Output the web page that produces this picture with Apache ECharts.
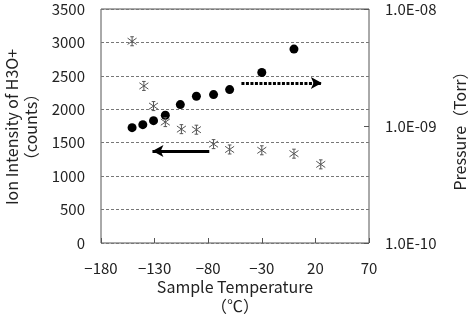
<!DOCTYPE html>
<html>
<head>
<meta charset="utf-8">
<script src="https://cdn.jsdelivr.net/npm/echarts@6/dist/echarts.min.js"></script>
<style>
  html, body { margin: 0; padding: 0; background: #fff; }
  #chart { width: 469px; height: 319px; }
</style>
</head>
<body>
<div id="chart"></div>
<script>
// sample temperature (°C)
const temps = [-151, -141, -131, -120, -106, -91, -75, -60, -30, 0];
const ionCounts = [1725, 1770, 1830, 1910, 2070, 2195, 2220, 2295, 2550, 2900];

const pressureTemps = [-151, -140, -131, -120, -105, -91, -75, -60, -30, 0, 25];
const pressures = [5.3e-9, 2.2e-9, 1.48e-9, 1.08e-9, 9.4e-10, 9.3e-10, 7.0e-10, 6.3e-10, 6.2e-10, 5.8e-10, 4.7e-10];

// arrows pointing at each series' axis
const leftArrow = [[-79, 1375], [-132, 1375]];
const rightArrow = [[-49, 2393], [26, 2393]];

const font = '"Noto Sans CJK JP", "Noto Sans", sans-serif';
const axisColor = '#555';

const asterisk = 'path://M3,0L7,0M5,0L5,10M3,10L7,10M0,1.5L10,8.5M10,1.5L0,8.5';

// axis titles drawn as plain text so they don't squeeze the grid
function axisTitle(text, x, y, rotated) {
  return {
    type: 'text',
    x: x,
    y: y,
    rotation: rotated ? Math.PI / 2 : 0,
    style: {
      text: text,
      fontFamily: font,
      fontSize: 16,
      lineHeight: 19,
      fill: '#222',
      align: 'center',
      verticalAlign: 'middle'
    }
  };
}

const chart = echarts.init(document.getElementById('chart'));

chart.setOption({
  animation: false,
  grid: {
    left: 101, top: 9, right: 100, bottom: 76,
    show: true,
    backgroundColor: 'transparent',
    borderColor: axisColor,
    borderWidth: 1
  },
  graphic: [
    axisTitle('Ion Intensity of H3O+\n（counts）', 21, 127, true),
    axisTitle('Pressure（Torr）', 460, 127, true),
    axisTitle('Sample Temperature\n（℃）', 235, 296, false)
  ],
  xAxis: {
    type: 'value',
    min: -180, max: 70, interval: 50,
    axisLine: { show: false },
    axisTick: { show: true, inside: true, length: 5, lineStyle: { color: axisColor } },
    axisLabel: {
      fontFamily: font, fontSize: 15, color: '#222', margin: 18,
      formatter: v => String(v).replace('-', '−')
    },
    splitLine: { show: false }
  },
  yAxis: [
    {
      type: 'value',
      min: 0, max: 3500, interval: 500,
      axisLine: { show: false },
      axisTick: { show: false },
      axisLabel: { fontFamily: font, fontSize: 15, color: '#222', margin: 16, formatter: v => String(v) },
      splitLine: { lineStyle: { color: '#777', type: [3, 2] } }
    },
    {
      type: 'log',
      logBase: 10,
      min: 1e-10, max: 1e-8,
      position: 'right',
      axisLine: { show: false },
      axisTick: { show: true, inside: true, length: 5, lineStyle: { color: axisColor } },
      axisLabel: {
        fontFamily: font, fontSize: 15, color: '#222', margin: 16,
        formatter: v => {
          const e = Math.round(Math.log10(v));
          return '1.0E-' + String(-e).padStart(2, '0');
        }
      },
      splitLine: { show: false }
    }
  ],
  series: [
    {
      name: 'ion',
      type: 'scatter',
      yAxisIndex: 0,
      symbol: 'circle',
      symbolSize: 9,
      itemStyle: { color: '#000', opacity: 1 },
      data: temps.map((t, i) => [t, ionCounts[i]]),
      markLine: {
        silent: true,
        animation: false,
        label: { show: false },
        data: [
          [
            { coord: leftArrow[0], symbol: 'none' },
            { coord: leftArrow[1], symbol: 'arrow', symbolSize: [9, 11] }
          ],
          [
            { coord: rightArrow[0], symbol: 'none', lineStyle: { type: [3, 1.5] } },
            { coord: rightArrow[1], symbol: 'arrow', symbolSize: [9, 11] }
          ]
        ],
        lineStyle: { color: '#000', width: 3, type: 'solid' }
      }
    },
    {
      name: 'pressure',
      type: 'scatter',
      yAxisIndex: 1,
      symbol: asterisk,
      symbolSize: 9,
      itemStyle: { color: 'none', borderColor: '#555', borderWidth: 1, opacity: 1 },
      data: pressureTemps.map((t, i) => [t, pressures[i]])
    }
  ]
});
</script>
</body>
</html>
